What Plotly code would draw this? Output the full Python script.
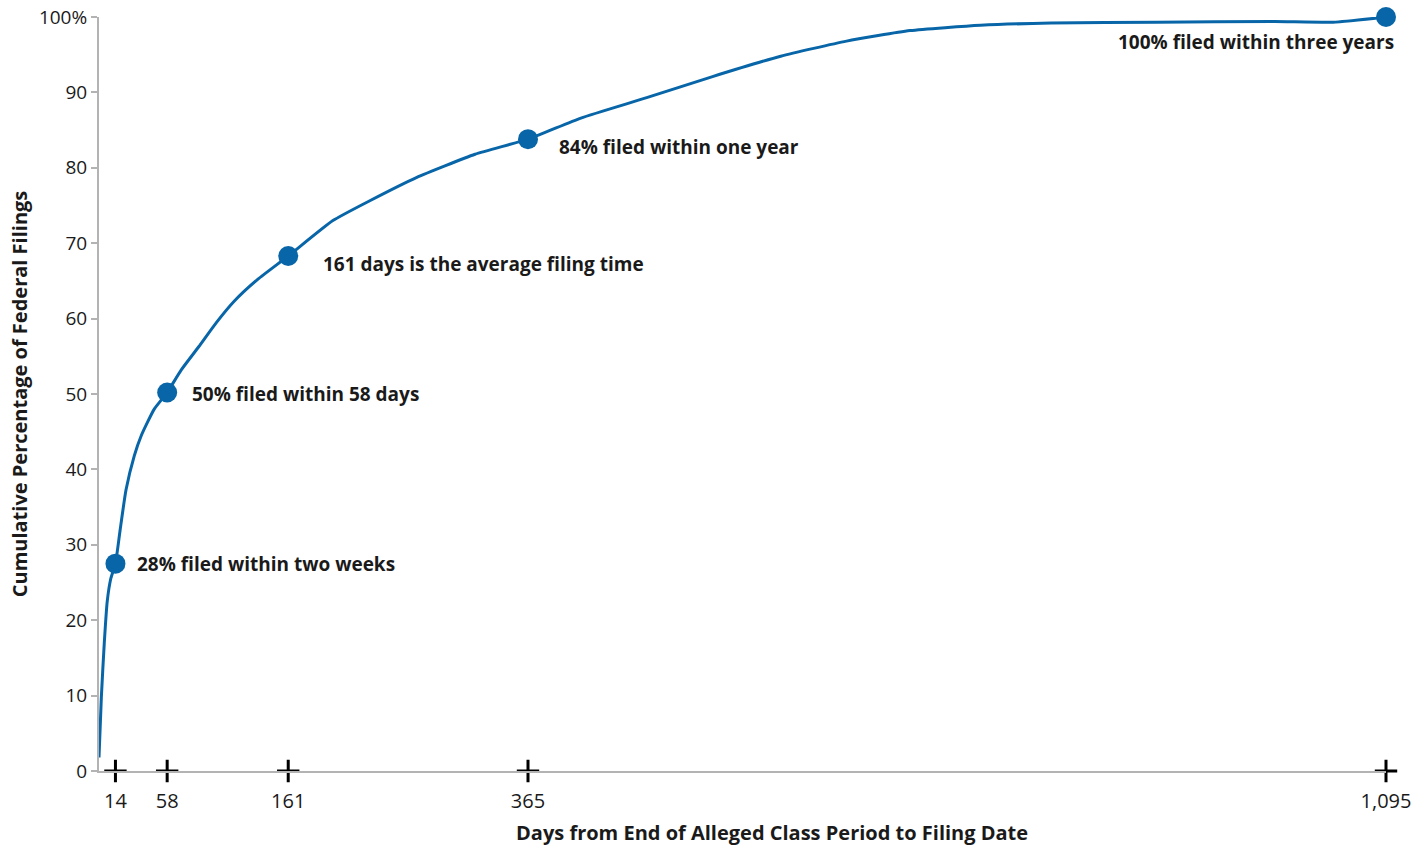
import plotly.graph_objects as go

# Cumulative share of federal filings by days elapsed since class period end
days = [0, 2, 4.5, 7, 10, 14, 18, 23, 30, 36, 47, 58, 70, 85, 100, 115, 135,
        161, 199, 230, 270, 320, 365, 410, 466, 522, 580, 636, 690, 750,
        810, 900, 1000, 1050, 1095]
pct = [1.8, 9.8, 17.0, 22.5, 25.5, 27.5, 32.0, 37.3, 41.8, 44.5, 48.0, 50.2,
       53.2, 56.3, 59.5, 62.3, 65.2, 68.3, 73.0, 75.6, 78.7, 81.8, 83.8,
       86.6, 89.3, 92.1, 94.8, 96.8, 98.2, 98.9, 99.2, 99.3, 99.4, 99.3, 100.0]

# Highlighted milestones
key_days = [14, 58, 161, 365, 1095]
key_pct = [27.5, 50.2, 68.3, 83.8, 100.0]
key_text = ["28% filed within two weeks", "50% filed within 58 days",
            "161 days is the average filing time", "84% filed within one year",
            "100% filed within three years"]

x_tick_labels = ["14", "58", "161", "365", "1,095"]
y_ticks = [0, 10, 20, 30, 40, 50, 60, 70, 80, 90, 100]
y_tick_labels = ["0", "10", "20", "30", "40", "50", "60", "70", "80", "90", "100%"]

BLUE = "#0866a8"
TEXT = "#1a1a1a"
AXIS = "#b3b3b3"
FONT = "Open Sans"

fig = go.Figure()

fig.add_trace(go.Scatter(
    x=days, y=pct, mode="lines",
    line=dict(color=BLUE, width=3, shape="spline", smoothing=0.5),
    cliponaxis=False, hoverinfo="skip", showlegend=False,
))

fig.add_trace(go.Scatter(
    x=key_days, y=key_pct, mode="markers",
    marker=dict(color=BLUE, size=20),
    cliponaxis=False, showlegend=False,
))

# Cross markers on the baseline at each milestone day
fig.add_trace(go.Scatter(
    x=key_days, y=[0] * len(key_days), mode="markers",
    marker=dict(symbol="cross-thin", size=16,
                line=dict(color="black", width=3)),
    cliponaxis=False, showlegend=False, hoverinfo="skip",
))

shifts = [(20, 0, "left"), (23, -2, "left"), (33, -8, "left"),
          (29, -8, "left"), (10, -25, "right")]
for d, p, t, (dx, dy, anchor) in zip(key_days, key_pct, key_text, shifts):
    fig.add_annotation(
        x=d, y=p, xref="x", yref="y", text="<b>%s</b>" % t,
        showarrow=False, xanchor=anchor, yanchor="middle",
        xshift=dx, yshift=dy,
        font=dict(family=FONT, size=19, color=TEXT),
    )

# Horizontal axis title, set slightly right of the plot centre
fig.add_annotation(
    x=0.523, y=0, xref="paper", yref="paper",
    text="<b>Days from End of Alleged Class Period to Filing Date</b>",
    showarrow=False, xanchor="center", yanchor="middle", yshift=-61,
    font=dict(family=FONT, size=20, color=TEXT),
)

fig.update_layout(
    width=1419, height=845,
    margin=dict(l=99, r=33, t=17, b=74),
    paper_bgcolor="white", plot_bgcolor="white",
    font=dict(family=FONT, color=TEXT),
)

fig.update_xaxes(
    range=[0, 1095], tickmode="array", tickvals=key_days, ticktext=x_tick_labels,
    ticks="", showgrid=False, zeroline=False, automargin=False,
    showline=True, linecolor=AXIS, linewidth=2,
    tickfont=dict(family=FONT, size=20, color=TEXT),
    ticklabelstandoff=11,
)

fig.update_yaxes(
    range=[0, 100], tickmode="array", tickvals=y_ticks, ticktext=y_tick_labels,
    ticks="outside", ticklen=6, tickcolor=AXIS, tickwidth=1.5,
    showgrid=False, zeroline=False, automargin=False,
    showline=True, linecolor=AXIS, linewidth=2,
    tickfont=dict(family=FONT, size=19, color=TEXT),
    title=dict(text="<b>Cumulative Percentage of Federal Filings</b>",
               font=dict(family=FONT, size=20, color=TEXT), standoff=6),
)

fig.write_html("out.html")
